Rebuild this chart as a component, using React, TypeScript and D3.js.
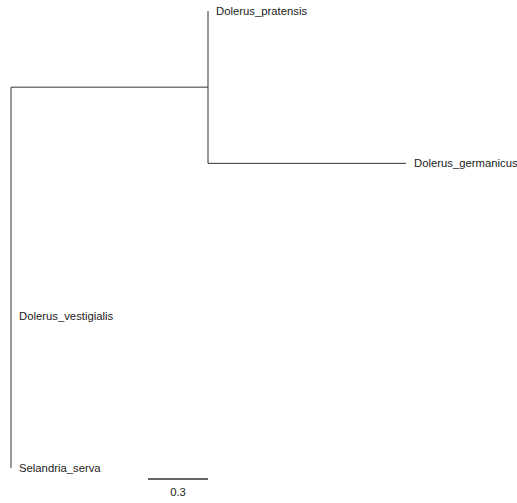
import { useEffect, useRef } from "react";
import * as d3 from "d3";

// tips, top to bottom, with their branch lengths
const tipLabels = ["Dolerus_pratensis", "Dolerus_germanicus", "Dolerus_vestigialis", "Selandria_serva"];
const tipLengths = [0, 0.99, 0, 0];
// branch leading to the (pratensis, germanicus) clade
const cladeLength = 0.985;
const scaleBarLength = 0.3;

type TreeNode = { name?: string; length: number; children?: TreeNode[] };

const App = () => {
  const width = 517;
  const height = 503;
  const svgRef = useRef<SVGSVGElement>(null);

  useEffect(() => {
    const svg = d3.select(svgRef.current);
    svg.selectAll("*").remove();

    const tips: TreeNode[] = tipLabels.map((name, i) => ({ name, length: tipLengths[i] }));
    const treeData: TreeNode = {
      length: 0,
      children: [{ length: cladeLength, children: [tips[0], tips[1]] }, tips[2], tips[3]],
    };

    const root = d3.hierarchy<TreeNode>(treeData);
    // cumulative distance from root
    const dist = new Map<any, number>();
    root.eachBefore((n) => {
      dist.set(n, (n.parent ? dist.get(n.parent)! : 0) + n.data.length);
    });

    const maxDist = d3.max(root.leaves(), (l) => dist.get(l)!)!;
    const xScale = d3.scaleLinear().domain([0, maxDist]).range([11, 406]);
    const yScale = d3.scalePoint<string>().domain(tipLabels).range([11, 468]);

    const yPos = new Map<any, number>();
    root.eachAfter((n) => {
      if (!n.children) yPos.set(n, yScale(n.data.name!)!);
      else {
        const ys = n.children.map((c) => yPos.get(c)!);
        // ape style: node at middle of first and last child
        yPos.set(n, (ys[0] + ys[ys.length - 1]) / 2);
      }
    });

    const g = svg.append("g").attr("stroke", "#333").attr("stroke-width", 1).attr("fill", "none");

    // horizontal edges
    root.descendants().filter((n) => n.parent).forEach((n) => {
      if (n.data.length === 0) return;
      g.append("line")
        .attr("x1", xScale(dist.get(n.parent)!))
        .attr("x2", xScale(dist.get(n)!))
        .attr("y1", yPos.get(n)!)
        .attr("y2", yPos.get(n)!);
    });

    // vertical connectors
    root.descendants().filter((n) => n.children).forEach((n) => {
      const ys = n.children!.map((c) => yPos.get(c)!);
      g.append("line")
        .attr("x1", xScale(dist.get(n)!))
        .attr("x2", xScale(dist.get(n)!))
        .attr("y1", d3.min(ys)!)
        .attr("y2", d3.max(ys)!);
    });

    // tip labels
    svg.append("g")
      .selectAll("text")
      .data(root.leaves())
      .enter()
      .append("text")
      .attr("x", (d) => xScale(dist.get(d)!) + 8)
      .attr("y", (d) => yPos.get(d)!)
      .attr("dy", "0.35em")
      .attr("font-family", "Liberation Sans, Arial, sans-serif")
      .attr("font-size", "11.3px")
      .attr("fill", "#222")
      .text((d) => d.data.name!);

    // scale bar, ending under the clade node
    const barEnd = xScale(cladeLength);
    const barStart = barEnd - (xScale(scaleBarLength) - xScale(0));
    const barY = yScale.range()[1] + 11;
    svg.append("line")
      .attr("x1", barStart)
      .attr("x2", barEnd)
      .attr("y1", barY)
      .attr("y2", barY)
      .attr("stroke", "#333")
      .attr("stroke-width", 1.3);
    svg.append("text")
      .attr("x", (barStart + barEnd) / 2)
      .attr("y", barY + 13)
      .attr("dy", "0.35em")
      .attr("text-anchor", "middle")
      .attr("font-family", "Liberation Sans, Arial, sans-serif")
      .attr("font-size", "11.3px")
      .attr("fill", "#222")
      .text(String(scaleBarLength));
  }, []);

  return (
    <svg
      ref={svgRef}
      width={width}
      height={height}
      style={{ position: "absolute", left: 0, top: 0, background: "#fff" }}
    />
  );
};

export default App;
